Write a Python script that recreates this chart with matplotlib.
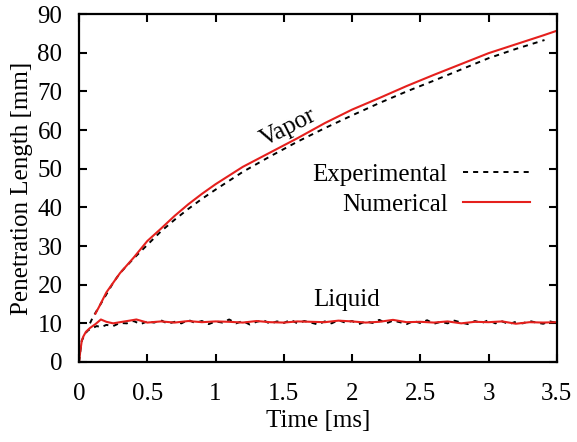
import matplotlib
matplotlib.use('Agg')
from matplotlib import pyplot as plt

plt.rcParams['font.family'] = ['Liberation Serif', 'DejaVu Serif']

### vapor penetration
vaporExpTime = [0.08, 0.1, 0.15, 0.2, 0.25, 0.3, 0.4, 0.5, 0.6, 0.7, 0.8, 0.9, 1.0,
                1.2, 1.4, 1.6, 1.8, 2.0, 2.2, 2.4, 2.6, 2.8, 3.0, 3.2, 3.41]
vaporExp = [10.0, 11.5, 14.5, 17.5, 20.5, 23.0, 26.8, 30.3, 33.8, 36.8, 39.6, 42.2, 44.6,
            49.2, 53.2, 57.0, 60.5, 63.8, 67.0, 70.0, 72.8, 75.7, 78.6, 81.0, 83.3]

vaporNumTime = [0.12, 0.15, 0.2, 0.25, 0.3, 0.4, 0.5, 0.6, 0.7, 0.8, 0.9, 1.0, 1.2,
                1.4, 1.6, 1.8, 2.0, 2.2, 2.4, 2.6, 2.8, 3.0, 3.2, 3.4, 3.5]
vaporNum = [12.5, 14.5, 18.0, 20.5, 23.0, 27.0, 31.3, 34.5, 37.8, 40.8, 43.5, 46.0, 50.5,
            54.2, 57.9, 61.8, 65.3, 68.3, 71.4, 74.3, 77.1, 79.9, 82.2, 84.5, 85.7]

### liquid penetration
liquidExpTime = [0, 0.01, 0.02, 0.04, 0.06, 0.08, 0.1, 0.13, 0.16, 0.2, 0.25, 0.3,
                 0.35, 0.4, 0.45, 0.5, 0.55, 0.6, 0.65, 0.7, 0.75, 0.8, 0.85, 0.9, 0.95,
                 1.0, 1.05, 1.1, 1.15, 1.2, 1.25, 1.3, 1.35, 1.4, 1.45, 1.5, 1.55, 1.6,
                 1.65, 1.7, 1.75, 1.8, 1.85, 1.9, 1.95, 2.0, 2.05, 2.1, 2.15, 2.2, 2.25,
                 2.3, 2.35, 2.4, 2.45, 2.5, 2.55, 2.6, 2.65, 2.7, 2.75, 2.8, 2.85, 2.9,
                 2.95, 3.0, 3.05, 3.1, 3.15, 3.2, 3.25, 3.3, 3.35, 3.4, 3.45, 3.5]
liquidExp = [0, 3.0, 5.5, 7.0, 8.0, 8.5, 8.8, 9.3, 9.0, 9.6, 9.3, 10.1,
             10.0, 10.6, 9.8, 10.5, 10.2, 10.8, 9.9, 10.4, 10.0, 10.9, 10.1, 10.6, 9.8,
             10.5, 10.2, 11.0, 10.0, 10.6, 9.7, 10.4, 10.8, 9.9, 10.5, 10.1, 10.9, 10.0,
             10.6, 10.2, 9.7, 10.5, 10.0, 10.8, 10.2, 10.6, 9.8, 10.5, 10.1, 10.9, 10.0,
             10.7, 10.3, 9.8, 10.6, 10.1, 10.8, 9.9, 10.4, 10.0, 10.7, 10.2, 9.8, 10.6,
             10.1, 10.8, 10.0, 10.5, 9.8, 10.4, 10.0, 10.6, 10.2, 9.9, 10.5, 10.1]

liquidNumTime = [0, 0.01, 0.02, 0.03, 0.05, 0.08, 0.12, 0.16, 0.2, 0.25, 0.3, 0.37, 0.42,
                 0.5, 0.6, 0.7, 0.8, 0.9, 1.0, 1.1, 1.2, 1.3, 1.4, 1.5, 1.6, 1.7, 1.8,
                 1.9, 2.0, 2.1, 2.2, 2.3, 2.4, 2.5, 2.6, 2.7, 2.8, 2.9, 3.0, 3.1, 3.2,
                 3.3, 3.4, 3.5]
liquidNum = [0, 3.0, 5.5, 6.5, 7.8, 8.8, 9.8, 11.0, 10.4, 10.0, 10.3, 10.7, 11.0,
             10.2, 10.5, 10.2, 10.6, 10.3, 10.5, 10.4, 10.2, 10.6, 10.3, 10.2, 10.5, 10.4, 10.3,
             10.7, 10.5, 10.2, 10.4, 10.9, 10.3, 10.4, 10.2, 10.5, 10.0, 10.4, 10.3, 10.5, 9.9,
             10.3, 10.2, 10.3]

xTicks = [0, 0.5, 1, 1.5, 2, 2.5, 3, 3.5]
xTickLabels = ['0', '0.5', '1', '1.5', '2', '2.5', '3', '3.5']
yTicks = [0, 10, 20, 30, 40, 50, 60, 70, 80, 90]

redColor = '#e5201d'
dashStyle = (0, (2.6, 2.6))
fs = 18

fig = plt.figure(figsize=(5.77, 4.42), dpi=100)
ax = fig.add_axes([0.137, 0.181, 0.828, 0.787])

### curvas experimentales (negro discontinuo) y numericas (rojo)
ax.plot(vaporExpTime, vaporExp, color='black', lw=1.4, linestyle=dashStyle, label='Experimental')
ax.plot(liquidExpTime, liquidExp, color='black', lw=1.4, linestyle=dashStyle)
ax.plot(vaporNumTime, vaporNum, color=redColor, lw=1.5, label='Numerical')
ax.plot(liquidNumTime, liquidNum, color=redColor, lw=1.5)

ax.set_xlim(0, 3.5)
ax.set_ylim(0, 90)
ax.set_xticks(xTicks)
ax.set_xticklabels(xTickLabels)
ax.set_yticks(yTicks)
ax.tick_params(direction='in', length=6, width=1.5, top=True, right=True, labelsize=fs)
ax.tick_params(axis='x', pad=15)
ax.tick_params(axis='y', pad=12)
for s in ax.spines.values():
    s.set_linewidth(1.6)

ax.set_xlabel('Time [ms]', fontsize=fs, labelpad=4)
ax.set_ylabel('Penetration Length [mm]', fontsize=fs, labelpad=3)

ax.text(1.53, 60.5, 'Vapor', fontsize=fs, rotation=27, ha='center', va='center')
ax.text(1.96, 16.0, 'Liquid', fontsize=fs, ha='center', va='center')

ax.legend(loc='upper right', bbox_to_anchor=(0.944, 0.57), frameon=False,
          markerfirst=False, fontsize=fs, handlelength=2.7, handletextpad=0.6,
          labelspacing=0.28, borderaxespad=0, borderpad=0)

fig.savefig('out.png', dpi=100)
